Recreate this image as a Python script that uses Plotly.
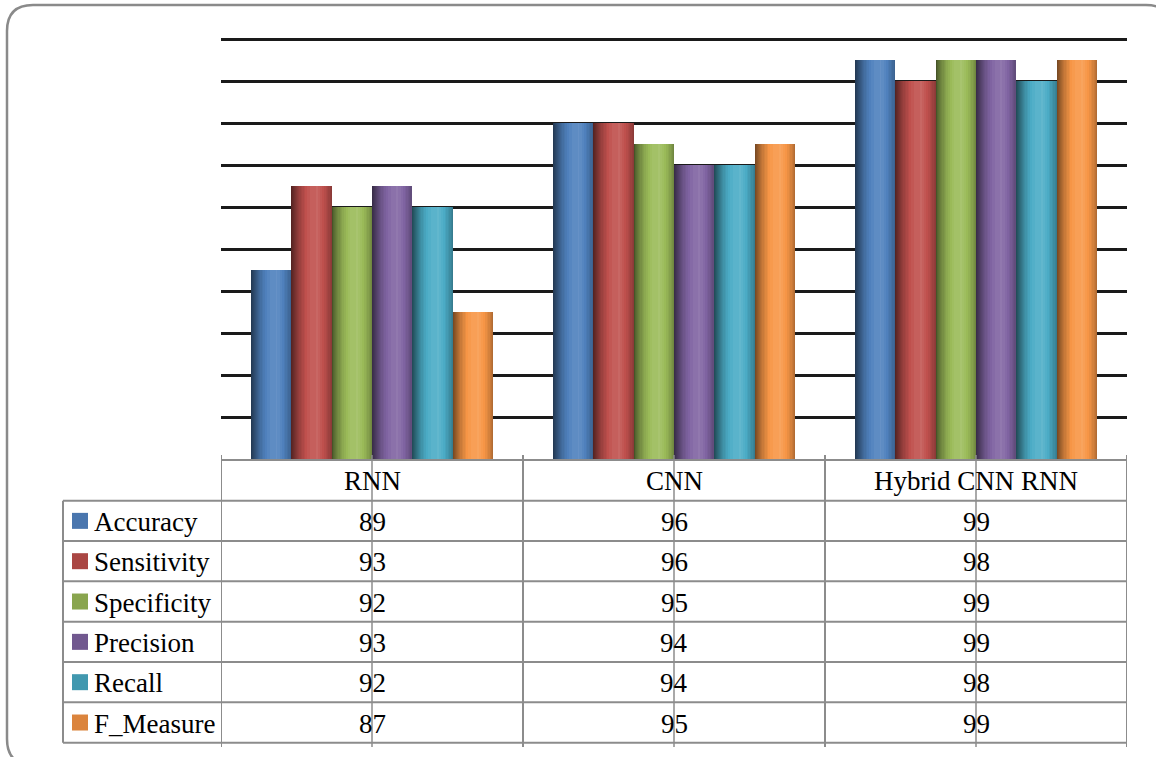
import plotly.graph_objects as go

# ---- data -------------------------------------------------------------
models = ["RNN", "CNN", "Hybrid CNN RNN"]
metrics = ["Accuracy", "Sensitivity", "Specificity", "Precision", "Recall", "F_Measure"]
accuracy = [89, 96, 99]
sensitivity = [93, 96, 98]
specificity = [92, 95, 99]
precision = [93, 94, 99]
recall = [92, 94, 98]
f_measure = [87, 95, 99]
series = [accuracy, sensitivity, specificity, precision, recall, f_measure]

# ---- styling ----------------------------------------------------------
bar_colors = ["#4F81BD", "#C0504D", "#9BBB59", "#8064A2", "#4BACC6", "#F79646"]
key_colors = ["#4A76AE", "#AA4643", "#89A54E", "#71588F", "#4198AF", "#DB843D"]
FONT = "Liberation Serif"
LINE = "#8c8c8c"

W, H = 1156, 757
L, R, T, B = 221, 1127, 37, 459          # plot area in pixels
Y0 = 80
Y1 = Y0 + (B - T) / 21.0                 # 21 px per unit, a little headroom above 100
n_cat = len(models)
n_ser = len(series)
bw = 1.0 / (n_ser + 1.5)                 # bar width, 150% gap


def px_x(px):
    return (px - L) / (R - L)


def px_y(py):
    return (B - py) / (B - T)


def shade(hexcol, f):
    r, g, b = (int(hexcol[i:i + 2], 16) for i in (1, 3, 5))
    if f <= 1:
        r, g, b = r * f, g * f, b * f
    else:
        k = f - 1
        r, g, b = r + (255 - r) * k, g + (255 - g) * k, b + (255 - b) * k
    return "rgb(%d,%d,%d)" % (round(r), round(g), round(b))


# cylinder-like horizontal shading: nested layers, lightest on top
lo, hi, ro, peak = 0.45, 1.13, 0.74, 0.62
n_layers = 16

fig = go.Figure()
for i, (vals, col) in enumerate(zip(series, bar_colors)):
    for k in range(n_layers):
        lev = lo + (hi - lo) * k / (n_layers - 1)
        frac = min(1.0, (lev - lo) / (hi - lo))
        t_l = peak * (1 - (1 - frac) ** 0.5)
        if lev <= ro:
            t_r = 1.0
        else:
            t_r = peak + (1 - peak) * ((hi - lev) / (hi - ro)) ** (1 / 1.5)
        if t_r - t_l < 0.02:
            t_r = t_l + 0.02
        xs = [c - 3 * bw + i * bw + bw * (t_l + t_r) / 2 for c in range(n_cat)]
        fig.add_trace(go.Bar(
            x=xs, y=vals, width=bw * (t_r - t_l),
            marker=dict(color=shade(col, lev), line=dict(width=0)),
            name=metrics[i], legendgroup=metrics[i],
            showlegend=False, hoverinfo="skip",
        ))

shapes = []

# outer rounded frame
fx0, fy0, fx1, fy1, rad = 7, 5, 1172, 765, 26
pts = [
    ("M", fx0 + rad, fy0), ("L", fx1 - rad, fy0),
    ("Q", fx1, fy0, fx1, fy0 + rad), ("L", fx1, fy1 - rad),
    ("Q", fx1, fy1, fx1 - rad, fy1), ("L", fx0 + rad, fy1),
    ("Q", fx0, fy1, fx0, fy1 - rad), ("L", fx0, fy0 + rad),
    ("Q", fx0, fy0, fx0 + rad, fy0),
]
path = ""
for p in pts:
    cmd, coords = p[0], p[1:]
    seg = []
    for j in range(0, len(coords), 2):
        seg.append("%.5f,%.5f" % (px_x(coords[j]), px_y(coords[j + 1])))
    path += cmd + " ".join(seg) + " "
shapes.append(dict(type="path", xref="paper", yref="paper", path=path + "Z",
                   line=dict(color="#8a8a8a", width=2.5), layer="below"))

# data table grid
head_bot = 500.7
row_h = 40.33
rows_y = [head_bot + row_h * j for j in range(n_ser + 1)]
tab_bottom = 747
key_left = 63

for yy in rows_y:
    shapes.append(dict(type="line", xref="paper", yref="paper",
                       x0=px_x(key_left), x1=1, y0=px_y(yy), y1=px_y(yy),
                       line=dict(color=LINE, width=2)))
shapes.append(dict(type="line", xref="paper", yref="paper",
                   x0=px_x(key_left), x1=px_x(key_left),
                   y0=px_y(head_bot), y1=px_y(rows_y[-1]),
                   line=dict(color=LINE, width=2)))
# column separators and category tick lines, on the category scale
for xv in [c - 0.5 for c in range(n_cat + 1)]:
    shapes.append(dict(type="line", xref="x", yref="paper",
                       x0=xv, x1=xv, y0=px_y(tab_bottom), y1=px_y(455),
                       line=dict(color=LINE, width=2)))
for c in range(n_cat):
    shapes.append(dict(type="line", xref="x", yref="paper",
                       x0=c, x1=c, y0=px_y(tab_bottom), y1=px_y(455),
                       line=dict(color=LINE, width=1.5)))

# legend keys
for j, kc in enumerate(key_colors):
    cy = (rows_y[j] + rows_y[j + 1]) / 2
    shapes.append(dict(type="rect", xref="paper", yref="paper",
                       x0=px_x(72), x1=px_x(88), y0=px_y(cy + 8), y1=px_y(cy - 8),
                       fillcolor=kc, line=dict(width=0)))

annotations = []
txt_font = dict(family=FONT, size=27, color="#000000")
for c, m in enumerate(models):
    annotations.append(dict(x=c, y=px_y((B + head_bot) / 2 + 1), xref="x", yref="paper",
                            text=m, showarrow=False, font=txt_font,
                            xanchor="center", yanchor="middle"))
for j, (m, vals) in enumerate(zip(metrics, series)):
    cy = (rows_y[j] + rows_y[j + 1]) / 2 + 1
    annotations.append(dict(x=px_x(92), y=px_y(cy), xref="paper", yref="paper",
                            text=m, showarrow=False, font=txt_font,
                            xanchor="left", yanchor="middle"))
    for c, v in enumerate(vals):
        annotations.append(dict(x=c, y=px_y(cy), xref="x", yref="paper",
                                text=str(v), showarrow=False, font=txt_font,
                                xanchor="center", yanchor="middle"))

fig.update_layout(
    width=W, height=H,
    margin=dict(l=L, r=W - R, t=T, b=H - B, pad=0),
    paper_bgcolor="white", plot_bgcolor="white",
    barmode="overlay", bargap=0,
    showlegend=False,
    shapes=shapes, annotations=annotations,
    xaxis=dict(range=[-0.5, n_cat - 0.5], showticklabels=False, ticks="",
               showgrid=False, zeroline=False, showline=True,
               linecolor=LINE, linewidth=2, fixedrange=True),
    yaxis=dict(range=[Y0, Y1], tickmode="array",
               tickvals=list(range(82, 101, 2)), showticklabels=False, ticks="",
               showgrid=True, gridcolor="#1a1a1a", gridwidth=2.5,
               zeroline=False, showline=False, fixedrange=True),
)

fig.write_html("out.html")
